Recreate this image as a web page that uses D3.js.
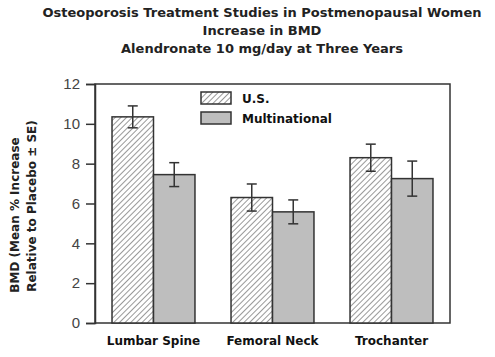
<!DOCTYPE html>
<html><head><meta charset="utf-8">
<script src="https://cdn.jsdelivr.net/npm/d3@7"></script>
<style>body{margin:0;background:#fff}svg{display:block}</style>
</head><body>
<svg id="c" width="495" height="357"></svg>
<script>
const titleLines = ["Osteoporosis Treatment Studies in Postmenopausal Women", "Increase in BMD", "Alendronate 10 mg/day at Three Years"];
const yTitleLines = ["BMD (Mean % Increase", "Relative to Placebo \u00b1 SE)"];
const categories = ["Lumbar Spine", "Femoral Neck", "Trochanter"];
const seriesNames = ["U.S.", "Multinational"];
const usValues = [10.35, 6.3, 8.3];
const usErr = [0.55, 0.68, 0.68];
const multiValues = [7.45, 5.58, 7.25];
const multiErr = [0.6, 0.6, 0.88];
const yTicks = [0, 2, 4, 6, 8, 10, 12];

const svg = d3.select("#c");
const L = 95, R = 450, T = 84, B = 323;
const x = d3.scaleBand().domain(categories).range([L, R]).paddingInner(0.303).paddingOuter(0.143);
const xs = d3.scaleBand().domain(seriesNames).range([0, x.bandwidth()]);
const y = d3.scaleLinear().domain([0, 12]).range([B, T]);

const defs = svg.append("defs");
const pat = defs.append("pattern").attr("id", "hatch").attr("patternUnits", "userSpaceOnUse")
  .attr("width", 4).attr("height", 4).attr("patternTransform", "rotate(45)");
pat.append("rect").attr("width", 4).attr("height", 4).attr("fill", "#fff");
pat.append("line").attr("x1", 0).attr("y1", 0).attr("x2", 0).attr("y2", 4).attr("stroke", "#333").attr("stroke-width", 1);

// title
svg.append("g").selectAll("text").data(titleLines).join("text")
  .attr("x", 262).attr("y", (d, i) => 17 + i * 18)
  .attr("text-anchor", "middle").attr("font-family", "DejaVu Sans, Verdana, sans-serif")
  .attr("font-weight", "bold").attr("font-size", 13).attr("fill", "#222").text(d => d);

// frame
svg.append("rect").attr("x", L).attr("y", T).attr("width", R - L).attr("height", B - T)
  .attr("fill", "none").attr("stroke", "#333").attr("stroke-width", 1.5);

// y axis
const yAxis = svg.append("g").attr("transform", `translate(${L},0)`)
  .call(d3.axisLeft(y).tickValues(yTicks).tickSize(9).tickPadding(6));
yAxis.select(".domain").attr("stroke", "#333").attr("stroke-width", 1.5);
yAxis.selectAll(".tick line").attr("stroke", "#333").attr("stroke-width", 1.5);
yAxis.selectAll(".tick text").attr("font-family", "Liberation Sans, Arial, sans-serif")
  .attr("font-size", 15).attr("fill", "#444");

// y title
const yt = svg.append("g");
yt.selectAll("text").data(yTitleLines).join("text")
  .attr("transform", (d, i) => `translate(${19 + i * 17},${i === 0 ? 215 : 206}) rotate(-90)`)
  .attr("text-anchor", "middle").attr("font-family", "DejaVu Sans, Verdana, sans-serif")
  .attr("font-weight", "bold").attr("font-size", 12).attr("fill", "#222").text(d => d);

// x labels
const xAxis = svg.append("g").attr("transform", `translate(0,${B})`)
  .call(d3.axisBottom(x).tickSize(0).tickPadding(13));
xAxis.select(".domain").remove();
xAxis.selectAll(".tick text").attr("font-family", "DejaVu Sans, Verdana, sans-serif")
  .attr("font-weight", "bold").attr("font-size", 12).attr("fill", "#111");

// bars
const data = categories.map((c, i) => [
  {cat: c, s: seriesNames[0], v: usValues[i], e: usErr[i]},
  {cat: c, s: seriesNames[1], v: multiValues[i], e: multiErr[i]}
]).flat();
const fillOf = s => s === seriesNames[0] ? "url(#hatch)" : "#bebebe";

svg.append("g").selectAll("rect").data(data).join("rect")
  .attr("x", d => x(d.cat) + xs(d.s)).attr("y", d => y(d.v))
  .attr("width", xs.bandwidth()).attr("height", d => y(0) - y(d.v))
  .attr("fill", d => fillOf(d.s)).attr("stroke", "#333").attr("stroke-width", 1.5);

// error bars
const eb = svg.append("g").attr("stroke", "#333").attr("stroke-width", 1.5);
data.forEach(d => {
  const cx = x(d.cat) + xs(d.s) + xs.bandwidth() / 2;
  eb.append("line").attr("x1", cx).attr("x2", cx).attr("y1", y(d.v + d.e)).attr("y2", y(d.v - d.e));
  eb.append("line").attr("x1", cx - 5).attr("x2", cx + 5).attr("y1", y(d.v + d.e)).attr("y2", y(d.v + d.e));
  eb.append("line").attr("x1", cx - 5).attr("x2", cx + 5).attr("y1", y(d.v - d.e)).attr("y2", y(d.v - d.e));
});

// legend
const lg = svg.append("g").selectAll("g").data(seriesNames).join("g")
  .attr("transform", (d, i) => `translate(201,${92 + i * 20})`);
lg.append("rect").attr("width", 30).attr("height", 12).attr("fill", d => fillOf(d))
  .attr("stroke", "#333").attr("stroke-width", 1.5);
lg.append("text").attr("x", 41).attr("y", 10.5).attr("font-family", "DejaVu Sans, Verdana, sans-serif")
  .attr("font-weight", "bold").attr("font-size", 12).attr("fill", "#111").text(d => d);
</script>
</body></html>
